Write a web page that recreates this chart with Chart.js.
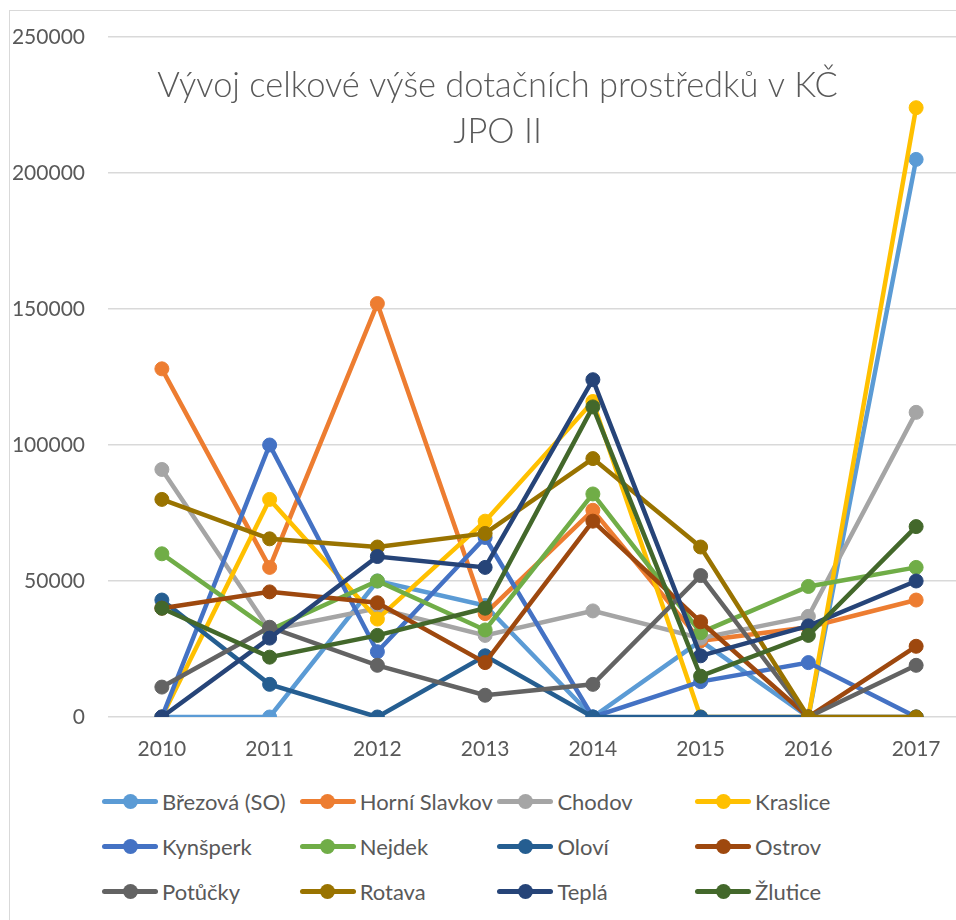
<!DOCTYPE html>
<html>
<head>
<meta charset="utf-8">
<script src="https://cdn.jsdelivr.net/npm/chart.js@4.4.1/dist/chart.umd.min.js"></script>
<style>
  html, body { margin: 0; padding: 0; background: #fff; overflow: hidden; width: 956px; height: 920px; }
  #frame { position: absolute; left: 9px; top: 10px; width: 1100px; height: 1100px; border: 1px solid #d9d9d9; box-sizing: border-box; }
  #c { position: absolute; left: 0; top: 0; }
  #legend { position: absolute; left: 102px; top: 779px; width: 800px; font-family: Lato, "Liberation Sans", sans-serif; font-size: 22px; color: #595959; }
  .item { position: absolute; height: 45px; display: flex; align-items: center; white-space: nowrap; }
  .sym { position: relative; width: 56px; height: 16px; margin-right: 4px; }
  .sym .ln { position: absolute; left: 0; right: 0; top: 5.5px; height: 5px; border-radius: 2.5px; }
  .sym .dot { position: absolute; left: 20.5px; top: 0.5px; width: 15px; height: 15px; border-radius: 50%; }
</style>
</head>
<body>
<div id="frame"></div>
<canvas id="c" width="1000" height="770"></canvas>
<div id="legend"></div>
<script>
const categories = ['2010', '2011', '2012', '2013', '2014', '2015', '2016', '2017'];
const yTicks = [0, 50000, 100000, 150000, 200000, 250000];
const seriesNames = ['Březová (SO)', 'Horní Slavkov', 'Chodov', 'Kraslice', 'Kynšperk', 'Nejdek', 'Oloví', 'Ostrov', 'Potůčky', 'Rotava', 'Teplá', 'Žlutice'];

const brezova      = [0, 0, 50000, 41000, 0, 28000, 0, 205000];
const horniSlavkov = [128000, 55000, 152000, 38000, 76000, 28000, 33000, 43000];
const chodov       = [91000, 32000, 40000, 30000, 39000, 29000, 37000, 112000];
const kraslice     = [0, 80000, 36000, 72000, 116000, 0, 0, 224000];
const kynsperk     = [0, 100000, 24000, 66000, 0, 13000, 20000, 0];
const nejdek       = [60000, 32000, 50000, 32000, 82000, 31000, 48000, 55000];
const olovi        = [43000, 12000, 0, 22500, 0, 0, 0, 0];
const ostrov       = [40000, 46000, 42000, 20000, 72000, 35000, 0, 26000];
const potucky      = [11000, 33000, 19000, 8000, 12000, 52000, 0, 19000];
const rotava       = [80000, 65500, 62500, 67500, 95000, 62500, 0, 0];
const tepla        = [0, 29000, 59000, 55000, 124000, 22500, 33500, 50000];
const zlutice      = [40000, 22000, 30000, 40000, 114000, 15000, 30000, 70000];

const seriesValues = [brezova, horniSlavkov, chodov, kraslice, kynsperk, nejdek, olovi, ostrov, potucky, rotava, tepla, zlutice];
const seriesColors = ['#5B9BD5', '#ED7D31', '#A5A5A5', '#FFC000', '#4472C4', '#70AD47', '#255E91', '#9E480E', '#636363', '#997300', '#264478', '#43682B'];

const titleLines = ['Vývoj celkové výše dotačních prostředků v KČ', 'JPO II'];
const TEXT = '#595959';
const FONT = 'Lato, "Liberation Sans", sans-serif';

const datasets = seriesNames.map((name, i) => ({
  label: name,
  data: seriesValues[i],
  borderColor: seriesColors[i],
  backgroundColor: seriesColors[i],
  pointBackgroundColor: seriesColors[i],
  pointBorderColor: seriesColors[i],
  borderWidth: 4.5,
  pointRadius: 7,
  pointBorderWidth: 1,
  tension: 0,
  order: seriesNames.length - i
}));

const titlePlugin = {
  id: 'overlayTitle',
  afterDraw(chart) {
    const ctx = chart.ctx;
    ctx.save();
    let size = 32;
    ctx.font = `300 ${size}px ${FONT}`;
    const w = ctx.measureText(titleLines[0]).width;
    size = size * 681 / w;
    ctx.font = `300 ${size}px ${FONT}`;
    ctx.fillStyle = TEXT;
    ctx.textAlign = 'center';
    ctx.textBaseline = 'alphabetic';
    ctx.fillText(titleLines[0], 497.5, 97);
    ctx.fillText(titleLines[1], 497.5, 143);
    ctx.restore();
  }
};

const chart = new Chart(document.getElementById('c'), {
  type: 'line',
  data: { labels: categories, datasets },
  options: {
    responsive: false,
    animation: false,
    devicePixelRatio: 1,
    layout: { padding: { left: 0, right: 30, top: 37, bottom: 0 } },
    plugins: { legend: { display: false }, title: { display: false }, tooltip: { enabled: false } },
    scales: {
      x: {
        offset: true,
        grid: { display: false, drawTicks: false },
        border: { display: false },
        ticks: { color: TEXT, font: { family: FONT, size: 21 }, padding: 20, maxRotation: 0 },
        afterFit(scale) { scale.height = 53; }
      },
      y: {
        min: 0, max: 250000,
        afterBuildTicks(scale) { scale.ticks = yTicks.map(v => ({ value: v })); },
        grid: { color: '#d9d9d9', lineWidth: 1.5, drawTicks: false },
        border: { display: false },
        ticks: { color: TEXT, font: { family: FONT, size: 21 }, padding: 23, callback: v => String(v) },
        afterFit(scale) { scale.width = 108; }
      }
    }
  },
  plugins: [titlePlugin]
});

// HTML legend built from the chart's datasets, laid out in a 4-column grid
const legend = document.getElementById('legend');
chart.data.datasets.forEach((ds, i) => {
  const col = i % 4, row = Math.floor(i / 4);
  const item = document.createElement('div');
  item.className = 'item';
  item.style.left = (col * 197.7) + 'px';
  item.style.top = (row * 45) + 'px';
  const sym = document.createElement('span');
  sym.className = 'sym';
  sym.innerHTML = `<span class="ln" style="background:${ds.borderColor}"></span><span class="dot" style="background:${ds.borderColor}"></span>`;
  const txt = document.createElement('span');
  txt.textContent = ds.label;
  item.appendChild(sym);
  item.appendChild(txt);
  legend.appendChild(item);
});
</script>
</body>
</html>
